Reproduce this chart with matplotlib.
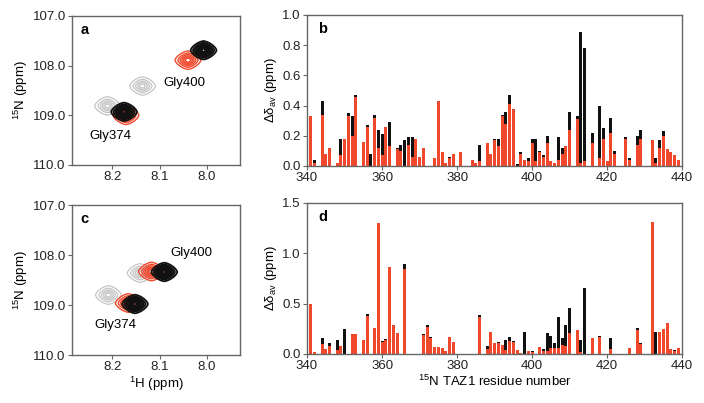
import numpy as np
import matplotlib
matplotlib.use("Agg")
import matplotlib.pyplot as plt

plt.rcParams['font.family'] = ['Liberation Sans', 'DejaVu Sans']
plt.rcParams['mathtext.fontset'] = 'custom'
plt.rcParams['mathtext.rm'] = 'Liberation Sans'
plt.rcParams['font.size'] = 9.5

# ---- NMR peak positions (1H ppm, 15N ppm): [Gly374, Gly400]
a_grey_h = [8.210, 8.136]
a_grey_n = [108.81, 108.41]
a_red_h = [8.171, 8.040]
a_red_n = [109.00, 107.89]
a_black_h = [8.175, 8.007]
a_black_n = [108.93, 107.69]

c_grey_h = [8.208, 8.141]
c_grey_n = [108.80, 108.36]
c_red_h = [8.166, 8.117]
c_red_n = [108.96, 108.33]
c_black_h = [8.152, 8.090]
c_black_n = [108.98, 108.34]

# ---- chemical shift perturbations
res_b = [341, 342, 344, 345, 346, 348, 349, 350, 351, 352, 353, 355, 356, 357, 358,
         359, 360, 361, 362, 364, 365, 366, 367, 368, 369, 370, 371, 374, 375, 376,
         377, 378, 379, 381, 384, 385, 386, 388, 389, 390, 391, 392, 393, 394, 395,
         396, 397, 398, 399, 400, 401, 402, 403, 404, 405, 406, 407, 408, 409, 410,
         412, 413, 414, 416, 418, 419, 420, 421, 422, 425, 426, 428, 429, 432, 433,
         434, 435, 436, 437, 438, 439]
red_b = [0.33, 0.02, 0.34, 0.08, 0.12, 0.02, 0.07, 0.18, 0.33, 0.20, 0.46, 0.16, 0.26, 0.0, 0.32,
         0.12, 0.07, 0.26, 0.13, 0.11, 0.10, 0.0, 0.14, 0.06, 0.18, 0.06, 0.12, 0.05, 0.43, 0.09,
         0.02, 0.05, 0.08, 0.09, 0.04, 0.02, 0.03, 0.15, 0.08, 0.17, 0.13, 0.33, 0.28, 0.41, 0.38,
         0.0, 0.08, 0.04, 0.03, 0.15, 0.03, 0.09, 0.06, 0.15, 0.03, 0.02, 0.04, 0.08, 0.13, 0.24,
         0.31, 0.02, 0.03, 0.15, 0.05, 0.18, 0.03, 0.22, 0.08, 0.18, 0.04, 0.14, 0.18, 0.17, 0.02,
         0.12, 0.20, 0.11, 0.09, 0.07, 0.04]
black_b = [0.0, 0.04, 0.43, 0.0, 0.0, 0.0, 0.18, 0.0, 0.35, 0.33, 0.47, 0.0, 0.27, 0.08, 0.34,
           0.24, 0.21, 0.0, 0.29, 0.12, 0.14, 0.17, 0.19, 0.19, 0.0, 0.0, 0.0, 0.0, 0.0, 0.0,
           0.0, 0.06, 0.0, 0.0, 0.0, 0.0, 0.14, 0.0, 0.0, 0.18, 0.18, 0.34, 0.36, 0.47, 0.0,
           0.01, 0.09, 0.0, 0.05, 0.18, 0.18, 0.10, 0.07, 0.20, 0.0, 0.0, 0.19, 0.12, 0.0, 0.36,
           0.33, 0.89, 0.78, 0.22, 0.40, 0.25, 0.0, 0.32, 0.10, 0.19, 0.05, 0.20, 0.24, 0.0, 0.05,
           0.17, 0.23, 0.0, 0.0, 0.0, 0.0]

res_d = [341, 342, 344, 345, 346, 348, 349, 350, 352, 353, 355, 356, 358, 359, 360,
         361, 362, 363, 364, 366, 371, 372, 373, 374, 375, 376, 377, 378, 379, 386,
         388, 389, 390, 391, 392, 393, 394, 395, 396, 397, 398, 399, 400, 402, 403,
         404, 405, 406, 407, 408, 409, 410, 412, 413, 414, 416, 418, 421, 426, 428,
         429, 432, 433, 434, 435, 436, 437, 438, 439]
red_d = [0.50, 0.02, 0.10, 0.05, 0.08, 0.04, 0.08, 0.0, 0.20, 0.20, 0.14, 0.38, 0.26, 1.30, 0.12,
         0.14, 0.86, 0.29, 0.21, 0.84, 0.19, 0.27, 0.16, 0.07, 0.07, 0.06, 0.03, 0.17, 0.12, 0.37,
         0.05, 0.22, 0.11, 0.11, 0.09, 0.04, 0.13, 0.12, 0.04, 0.01, 0.0, 0.03, 0.02, 0.07, 0.03,
         0.03, 0.06, 0.06, 0.06, 0.09, 0.08, 0.21, 0.24, 0.02, 0.0, 0.16, 0.17, 0.05, 0.06, 0.24,
         0.10, 1.31, 0.0, 0.22, 0.25, 0.31, 0.05, 0.03, 0.06]
black_d = [0.0, 0.0, 0.16, 0.0, 0.11, 0.14, 0.0, 0.25, 0.0, 0.0, 0.0, 0.40, 0.0, 0.0, 0.13,
           0.15, 0.0, 0.0, 0.0, 0.89, 0.20, 0.29, 0.17, 0.0, 0.0, 0.0, 0.0, 0.0, 0.0, 0.39,
           0.08, 0.0, 0.0, 0.12, 0.0, 0.14, 0.17, 0.13, 0.0, 0.0, 0.22, 0.0, 0.03, 0.0, 0.05,
           0.21, 0.18, 0.11, 0.37, 0.16, 0.29, 0.46, 0.0, 0.14, 0.66, 0.0, 0.18, 0.16, 0.0, 0.26,
           0.11, 0.0, 0.22, 0.0, 0.0, 0.0, 0.0, 0.04, 0.0]

RED = '#f0482c'
BLACK = '#111111'
GREY = '#c4c4c4'
SPINE = '#666666'

fig = plt.figure(figsize=(7.04, 4.03), dpi=100)
ax_a = fig.add_axes([0.1023, 0.5906, 0.2386, 0.3697])
ax_c = fig.add_axes([0.1023, 0.1191, 0.2386, 0.3722])
ax_b = fig.add_axes([0.4361, 0.5881, 0.5327, 0.3747])
ax_d = fig.add_axes([0.4361, 0.1216, 0.5327, 0.3747])

hh, nn = np.meshgrid(np.linspace(8.30, 7.90, 400), np.linspace(106.8, 110.2, 400))


def peaks(hs, ns, sh=0.0125, sn=0.085):
    z = np.zeros_like(hh)
    for h, n in zip(hs, ns):
        # slightly diamond-shaped peak
        d = (np.abs((hh - h) / sh) ** 1.5 + np.abs((nn - n) / sn) ** 1.5) ** (1 / 1.5)
        z = np.maximum(z, np.exp(-d ** 1.5 / 2))
    return z


def spectrum(ax, gh, gn, rh, rn, bh, bn):
    ax.contour(hh, nn, peaks(gh, gn), levels=np.linspace(0.2, 0.85, 5),
               colors=GREY, linewidths=0.9)
    ax.contour(hh, nn, peaks(rh, rn), levels=np.linspace(0.2, 0.85, 6),
               colors=RED, linewidths=1.0)
    ax.contour(hh, nn, peaks(bh, bn), levels=np.linspace(0.2, 0.9, 8),
               colors=BLACK, linewidths=1.3)
    ax.set_xlim(8.285, 7.93)
    ax.set_ylim(110.0, 107.0)
    ax.set_xticks([8.2, 8.1, 8.0])
    ax.set_xticklabels(['8.2', '8.1', '8.0'])
    ax.set_yticks([107, 108, 109, 110])
    ax.set_yticklabels(['107.0', '108.0', '109.0', '110.0'])
    ax.set_ylabel('$^{\\mathregular{15}}$N (ppm)', labelpad=2)


spectrum(ax_a, a_grey_h, a_grey_n, a_red_h, a_red_n, a_black_h, a_black_n)
spectrum(ax_c, c_grey_h, c_grey_n, c_red_h, c_red_n, c_black_h, c_black_n)
ax_a.text(8.047, 108.35, 'Gly400', ha='center', va='center')
ax_a.text(8.204, 109.42, 'Gly374', ha='center', va='center')
ax_c.text(8.033, 107.95, 'Gly400', ha='center', va='center')
ax_c.text(8.194, 109.39, 'Gly374', ha='center', va='center')
ax_c.set_xlabel('$^{\\mathregular{1}}$H (ppm)', labelpad=1)


def shifts(ax, res, red, black, ymax, ticks):
    ax.bar(res, black, width=0.8, color=BLACK, linewidth=0)
    ax.bar(res, red, width=0.8, color=RED, linewidth=0)
    ax.set_xlim(340, 440)
    ax.set_ylim(0, ymax)
    ax.set_xticks([340, 360, 380, 400, 420, 440])
    ax.set_yticks(ticks)
    ax.set_yticklabels(['%.1f' % t for t in ticks])
    ax.set_ylabel('Δδ$_{\\mathregular{av}}$ (ppm)', labelpad=2)


shifts(ax_b, res_b, red_b, black_b, 1.0, [0.0, 0.2, 0.4, 0.6, 0.8, 1.0])
shifts(ax_d, res_d, red_d, black_d, 1.5, [0.0, 0.5, 1.0, 1.5])
ax_d.set_xlabel('$^{\\mathregular{15}}$N TAZ1 residue number', labelpad=1)

for ax, lab in [(ax_a, 'a'), (ax_b, 'b'), (ax_c, 'c'), (ax_d, 'd')]:
    x0 = 0.05 if ax in (ax_a, ax_c) else 0.03
    ax.text(x0, 0.88, lab, transform=ax.transAxes, fontweight='bold', fontsize=10.5)
    for s in ax.spines.values():
        s.set_color(SPINE)
        s.set_linewidth(1.0)
    ax.tick_params(direction='out', length=3, width=0.8, color=SPINE,
                   labelsize=9.5, labelcolor='#222222', pad=1.5)

fig.savefig('out.png', dpi=100)
